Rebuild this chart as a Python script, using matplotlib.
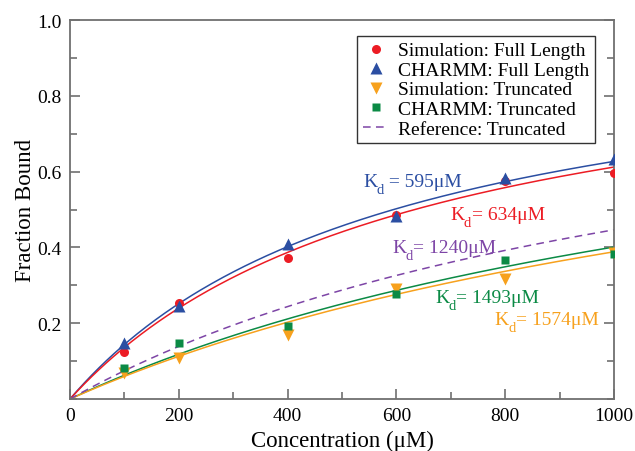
import numpy as np
import matplotlib
matplotlib.use("Agg")
import matplotlib.pyplot as plt
from matplotlib.ticker import MultipleLocator

plt.rcParams['font.family'] = ['Liberation Serif', 'DejaVu Serif']

# Data
conc = [100, 200, 400, 600, 800, 1000]
sim_full = [0.124, 0.253, 0.373, 0.485, 0.575, 0.597]
charmm_full = [0.149, 0.246, 0.408, 0.484, 0.583, 0.633]
sim_trunc = [0.068, 0.108, 0.169, 0.289, 0.316, 0.386]
charmm_trunc = [0.083, 0.147, 0.193, 0.276, 0.368, 0.383]

# Fitted dissociation constants (uM)
kd_labels = ["Simulation: Full Length", "CHARMM: Full Length", "Simulation: Truncated",
             "CHARMM: Truncated", "Reference: Truncated"]
kd_sim_full = 634
kd_charmm_full = 595
kd_sim_trunc = 1574
kd_charmm_trunc = 1493
kd_ref_trunc = 1240

c_red = '#ec1c24'
c_blue = '#2b4ea2'
c_orange = '#f7a11d'
c_green = '#0b8a45'
c_purple = '#7d45a6'

fig = plt.figure(figsize=(6.35, 4.52), dpi=100)
ax = fig.add_axes([70/635, 52/452, 544/635, 379/452])

xf = np.linspace(0, 1000, 300)
def fit(kd):
    return xf / (kd + xf)

ax.plot(xf, fit(kd_charmm_full), color=c_blue, lw=1.1, zorder=2)
ax.plot(xf, fit(kd_sim_full), color=c_red, lw=1.1, zorder=2)
ax.plot(xf, fit(kd_charmm_trunc), color=c_green, lw=1.1, zorder=2)
ax.plot(xf, fit(kd_sim_trunc), color=c_orange, lw=1.1, zorder=2)
ref_line, = ax.plot(xf, fit(kd_ref_trunc), color=c_purple, lw=1.1, dashes=(5, 3.5), zorder=2)

h1, = ax.plot(conc, sim_full, 'o', color=c_red, ms=6.5, mec='none', zorder=3)
h2, = ax.plot(conc, charmm_full, '^', color=c_blue, ms=8.5, mec='none', zorder=3)
h3, = ax.plot(conc, sim_trunc, 'v', color=c_orange, ms=8.5, mec='none', zorder=3)
h4, = ax.plot(conc, charmm_trunc, 's', color=c_green, ms=6, mec='none', zorder=3)

ax.set_xlim(0, 1000)
ax.set_ylim(0, 1.0)
ax.xaxis.set_major_locator(MultipleLocator(200))
ax.xaxis.set_minor_locator(MultipleLocator(100))
ax.yaxis.set_major_locator(MultipleLocator(0.2))
ax.yaxis.set_minor_locator(MultipleLocator(0.1))
ax.set_yticks([0.2, 0.4, 0.6, 0.8, 1.0])
ax.set_yticklabels(['0.2', '0.4', '0.6', '0.8', '1.0'])
ax.set_xticks([0, 200, 400, 600, 800, 1000])
ax.set_xticklabels(['0', '200', '400', '600', '800', '1000'])

spine_c = '#707070'
for s in ax.spines.values():
    s.set_color(spine_c)
    s.set_linewidth(1.3)
ax.tick_params(which='both', direction='in', color=spine_c, width=1.2,
               left=True, right=True, bottom=True, top=False, labelsize=14, pad=6)
ax.tick_params(which='major', length=7)
ax.tick_params(which='minor', length=5)

ax.set_xlabel('Concentration (μM)', fontsize=16.5, labelpad=4)
ax.set_ylabel('Fraction Bound', fontsize=16.5, labelpad=1)

leg = ax.legend([h1, h2, h3, h4, ref_line], kd_labels, loc='upper right',
                bbox_to_anchor=(0.965, 0.958), borderaxespad=0, fancybox=False,
                edgecolor='#333333', fontsize=14, handlelength=1.3,
                handletextpad=0.5, labelspacing=0.1, borderpad=0.3,
                framealpha=1)
leg.get_frame().set_linewidth(1.0)

fs = 14
def kd_label(x, y, rest, color):
    ax.annotate('K', xy=(x, y), xytext=(0, 0), textcoords='offset points',
                color=color, fontsize=fs, va='baseline', ha='left')
    ax.annotate('d', xy=(x, y), xytext=(9.8, -5), textcoords='offset points',
                color=color, fontsize=10.5, va='baseline', ha='left')
    ax.annotate(rest, xy=(x, y), xytext=(15.3, 0), textcoords='offset points',
                color=color, fontsize=fs, va='baseline', ha='left')

kd_label(539, 0.561, ' = 595μM', c_blue)
kd_label(699, 0.474, '= 634μM', c_red)
kd_label(592, 0.388, '= 1240μM', c_purple)
kd_label(671, 0.256, '= 1493μM', c_green)
kd_label(781, 0.197, '= 1574μM', c_orange)

fig.savefig('out.png', dpi=100)
